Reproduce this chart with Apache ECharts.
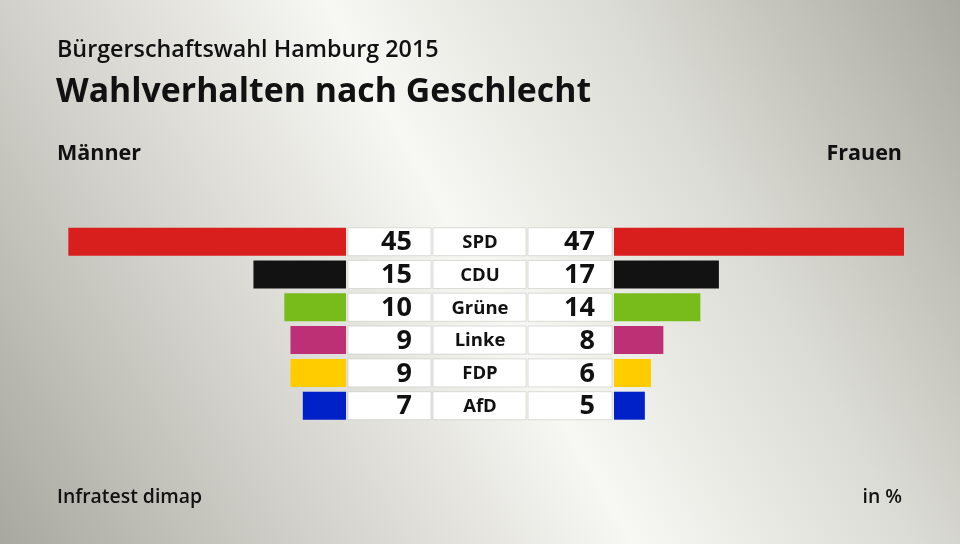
<!DOCTYPE html>
<html><head><meta charset="utf-8">
<script src="https://cdn.jsdelivr.net/npm/echarts@6/dist/echarts.min.js"></script>
<style>html,body{margin:0;padding:0;}#c{width:960px;height:544px;}</style>
</head><body><div id="c"></div>
<script>
const categories = ['SPD', 'CDU', 'Grüne', 'Linke', 'FDP', 'AfD'];
const maenner = [45, 15, 10, 9, 9, 7];
const frauen = [47, 17, 14, 8, 6, 5];
const partyColors = ['#d81f1d', '#121212', '#78bc1b', '#bd3075', '#ffcc00', '#0021c8'];

const FONT = '"Open Sans", "Noto Sans", sans-serif';
const chart = echarts.init(document.getElementById('c'));
const gridTop = 225.3, gridH = 196.8;
const unitW = 6.17, axisMax = 50;

const midData = categories.map((c, i) => [0, c, maenner[i], frauen[i]]);

function t(text, pos, size, weight) {
  return Object.assign({ text: text, padding: 0, textStyle: { fontFamily: FONT, fontSize: size, fontWeight: weight, color: '#111' } }, pos);
}

chart.setOption({
  backgroundColor: {
    type: 'linear', x: 0, y: 1, x2: 1, y2: 0,
    colorStops: [
      { offset: 0, color: '#a9a8a0' },
      { offset: 0.25, color: '#d2d1cb' },
      { offset: 0.5, color: '#f7f7f3' },
      { offset: 0.72, color: '#dcdcd6' },
      { offset: 1, color: '#aaa9a1' }
    ]
  },
  animation: false,
  title: [
    t('Bürgerschaftswahl Hamburg 2015', { left: 57, top: 39 }, 23.3, 600),
    t('Wahlverhalten nach Geschlecht', { left: 56, top: 75 }, 33.8, 'bold'),
    t('Männer', { left: 57, top: 143 }, 21.5, 'bold'),
    t('Frauen', { right: 58, top: 143 }, 21.5, 'bold'),
    t('Infratest dimap', { left: 57, top: 488 }, 19.4, 600),
    t('in %', { right: 58, top: 488 }, 19.4, 600)
  ],
  grid: [
    { left: 346 - axisMax * unitW, width: axisMax * unitW, top: gridTop, height: gridH },
    { left: 614, width: axisMax * unitW, top: gridTop, height: gridH },
    { left: 346, width: 268, top: gridTop, height: gridH }
  ],
  xAxis: [
    { gridIndex: 0, type: 'value', min: 0, max: axisMax, inverse: true, show: false },
    { gridIndex: 1, type: 'value', min: 0, max: axisMax, show: false },
    { gridIndex: 2, type: 'value', min: 0, max: 1, show: false }
  ],
  yAxis: [0, 1, 2].map(g => ({ gridIndex: g, type: 'category', data: categories, inverse: true, show: false })),
  series: [
    {
      type: 'bar', xAxisIndex: 0, yAxisIndex: 0, barWidth: 28,
      data: maenner.map((v, i) => ({ value: v, itemStyle: { color: partyColors[i] } }))
    },
    {
      type: 'bar', xAxisIndex: 1, yAxisIndex: 1, barWidth: 28,
      data: frauen.map((v, i) => ({ value: v, itemStyle: { color: partyColors[i] } }))
    },
    {
      type: 'custom', xAxisIndex: 2, yAxisIndex: 2,
      encode: { x: 0, y: 1 },
      data: midData,
      renderItem: function (params, api) {
        const cs = params.coordSys;
        const yc = api.coord([0, api.value(1)])[1];
        const h = 28;
        const y0 = yc - h / 2;
        const x0 = cs.x;
        const box = (dx, w) => ({
          type: 'rect', shape: { x: x0 + dx, y: y0, width: w, height: h },
          style: { fill: '#ffffff', stroke: 'rgba(200,200,195,0.6)', lineWidth: 1 }
        });
        const numStyle = { fontFamily: FONT, fontSize: 27, fontWeight: 'bold', fill: '#111', verticalAlign: 'middle' };
        return {
          type: 'group',
          children: [
            box(2, 83), box(87, 93), box(182, 84),
            { type: 'text', style: Object.assign({}, numStyle, { text: String(api.value(2)), x: x0 + 66, y: yc + 1, align: 'right' }) },
            { type: 'text', style: { text: categories[params.dataIndex], x: x0 + 134, y: yc + 1, align: 'center', verticalAlign: 'middle', fontFamily: FONT, fontSize: 18.5, fontWeight: 'bold', fill: '#111' } },
            { type: 'text', style: Object.assign({}, numStyle, { text: String(api.value(3)), x: x0 + 249, y: yc + 1, align: 'right' }) }
          ]
        };
      }
    }
  ]
});
</script>
</body></html>
